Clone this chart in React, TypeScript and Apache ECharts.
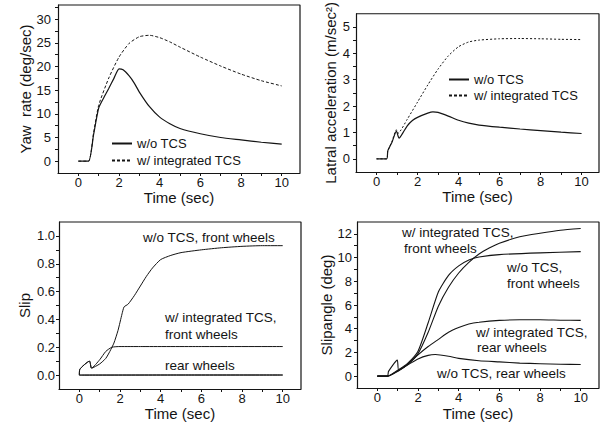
import React, { useEffect, useRef } from "react";
import * as echarts from "echarts";

// ---------- tick values ----------
const xMajorTicks = [0, 2, 4, 6, 8, 10];
const xAllTicks = [0, 1, 2, 3, 4, 5, 6, 7, 8, 9, 10];
const yawTicks = [0, 5, 10, 15, 20, 25, 30];
const yawAllTicks = [0, 2.5, 5, 7.5, 10, 12.5, 15, 17.5, 20, 22.5, 25, 27.5, 30, 32.5];
const latTicks = [0, 1, 2, 3, 4, 5];
const latAllTicks = [0, 0.5, 1, 1.5, 2, 2.5, 3, 3.5, 4, 4.5, 5];
const slipTicks = [0, 0.2, 0.4, 0.6, 0.8, 1.0];
const slipAllTicks = [0, 0.1, 0.2, 0.3, 0.4, 0.5, 0.6, 0.7, 0.8, 0.9, 1.0];
const angleTicks = [0, 2, 4, 6, 8, 10, 12];
const angleAllTicks = [0, 1, 2, 3, 4, 5, 6, 7, 8, 9, 10, 11, 12];

// ---------- legend names ----------
const legendNames = ["w/o TCS", "w/ integrated TCS"];

// ---------- Yaw rate (deg/sec) : [time, value] ----------
const yawWoTcs = [
  [0, 0], [0.5, 0], [0.75, 5.6], [1, 11.2], [1.25, 13.4], [1.5, 15.4], [1.75, 17.5],
  [2, 19.5], [2.2, 19.3], [2.5, 18.0], [2.75, 16.5], [3, 14.6], [3.5, 11.5], [4, 9.3],
  [4.5, 7.9], [5, 6.9], [6, 5.8], [7, 5.0], [8, 4.5], [9, 4.0], [10, 3.6],
];
const yawWithTcs = [
  [0, 0], [0.5, 0], [0.75, 6.0], [1, 11.8], [1.5, 17.6], [2, 22.0], [2.5, 24.9],
  [3, 26.3], [3.5, 26.6], [4, 26.1], [4.5, 25.2], [5, 24.1], [6, 22.0], [7, 20.1],
  [8, 18.4], [9, 17.0], [10, 15.9],
];

// ---------- Lateral acceleration (m/sec^2) ----------
const latWoTcs = [
  [0, 0], [0.5, 0], [0.55, 0.3], [0.75, 0.62], [0.97, 1.05], [1.1, 0.78], [1.3, 1.0],
  [1.5, 1.25], [1.75, 1.45], [2, 1.57], [2.5, 1.73], [2.75, 1.78], [3, 1.76],
  [3.5, 1.62], [4, 1.46], [4.5, 1.35], [5, 1.28], [6, 1.2], [7, 1.13], [8, 1.07],
  [9, 1.01], [10, 0.96],
];
const latWithTcs = [
  [0, 0], [0.5, 0], [0.55, 0.3], [0.75, 0.65], [0.97, 1.1], [1.05, 0.97], [1.5, 1.5],
  [2, 2.15], [2.5, 2.8], [3, 3.4], [3.5, 3.9], [4, 4.25], [4.5, 4.43], [5, 4.5],
  [6, 4.55], [7, 4.56], [8, 4.55], [9, 4.53], [10, 4.52],
];

// ---------- Slip ----------
const slipWoFront = [
  [0, 0], [0.02, 0.04], [0.5, 0.1], [0.6, 0.05], [1, 0.08], [1.3, 0.12], [1.5, 0.17],
  [1.7, 0.23], [1.9, 0.32], [2.1, 0.44], [2.2, 0.49], [2.4, 0.51], [2.7, 0.57],
  [3, 0.64], [3.3, 0.71], [3.6, 0.77], [4, 0.83], [4.5, 0.86], [5, 0.88], [6, 0.9],
  [7, 0.915], [8, 0.925], [9, 0.93], [10, 0.93],
];
const slipWithFront = [
  [0, 0], [0.02, 0.04], [0.5, 0.1], [0.6, 0.05], [1, 0.11], [1.3, 0.17], [1.6, 0.2],
  [2, 0.205], [3, 0.205], [6, 0.205], [10, 0.205],
];
const slipWoRear = [[0, 0], [5, 0], [10, 0]];
const slipWithRear = [[0, 0], [5, 0.001], [10, 0.001]];

// ---------- Slip angle (deg) ----------
const angleWithFront = [
  [0, 0], [0.5, 0], [1, 0.4], [1.5, 1.0], [2, 1.9], [2.5, 3.7], [3, 5.9], [3.5, 7.5],
  [4, 8.7], [4.5, 9.6], [5, 10.3], [5.5, 10.8], [6, 11.2], [7, 11.75], [8, 12.05],
  [9, 12.3], [10, 12.45],
];
const angleWoFront = [
  [0, 0], [0.5, 0], [1, 0.5], [1.5, 1.1], [2, 2.1], [2.5, 4.5], [3, 7.1], [3.5, 8.5],
  [4, 9.3], [4.5, 9.8], [5, 10.05], [6, 10.25], [8, 10.4], [10, 10.5],
];
const angleWithRear = [
  [0, 0], [0.5, 0], [1, 0.45], [1.5, 1.0], [2, 1.8], [2.5, 2.5], [3, 3.1], [3.5, 3.7],
  [4, 4.1], [4.5, 4.4], [5, 4.55], [6, 4.7], [7, 4.75], [8, 4.75], [9, 4.72], [10, 4.7],
];
const angleWoRear = [
  [0, 0], [0.5, 0], [0.55, 0.4], [0.98, 1.35], [1.05, 0.5], [1.5, 0.95], [2, 1.45],
  [2.5, 1.75], [2.85, 1.82], [3.5, 1.68], [4, 1.5], [5, 1.3], [6, 1.2], [7, 1.1],
  [8, 1.05], [9, 1.0], [10, 0.98],
];

// ---------- styling ----------
const FONT = "'Liberation Sans', Arial, Helvetica, sans-serif";
const INK = "#141414";

const panels = [
  { left: 58, top: 5, width: 242, height: 168, xMax: 10.9, yMin: -2.5, yMax: 33, yTicks: yawTicks, yAll: yawAllTicks, yName: "Yaw  rate (deg/sec)", nameGap: 25, labelMargin: 7, xGap: 13, fmt: (v: number) => String(v) },
  { left: 356, top: 5, width: 243, height: 167, xMax: 10.85, yMin: -0.5, yMax: 5.5, yTicks: latTicks, yAll: latAllTicks, yName: "Latral acceleration (m/sec²)", nameGap: 18, labelMargin: 6, xGap: 13, fmt: (v: number) => String(v) },
  { left: 59, top: 222, width: 242, height: 167, xMax: 10.9, yMin: -0.1, yMax: 1.1, yTicks: slipTicks, yAll: slipAllTicks, yName: "Slip", nameGap: 27, labelMargin: 4, xGap: 17, fmt: (v: number) => v.toFixed(1) },
  { left: 357, top: 222, width: 242, height: 166, xMax: 10.9, yMin: -1, yMax: 13, yTicks: angleTicks, yAll: angleAllTicks, yName: "Slipangle (deg)", nameGap: 21, labelMargin: 5, xGap: 18, fmt: (v: number) => String(v) },
];

const tickStyle = { color: INK, width: 1 };

function buildOption() {
  const grid: any[] = [];
  const xAxis: any[] = [];
  const yAxis: any[] = [];
  panels.forEach((p, i) => {
    grid.push({ left: p.left, top: p.top, width: p.width, height: p.height, containLabel: false });
    xAxis.push({
      type: "value", gridIndex: i, min: -1, max: p.xMax, position: "bottom",
      name: "Time (sec)", nameLocation: "middle", nameGap: p.xGap,
      nameTextStyle: { fontFamily: FONT, fontSize: 15, fontWeight: "normal", color: INK, verticalAlign: "top" },
      axisLine: { show: true, onZero: false, lineStyle: { color: INK, width: 1.2 } },
      axisTick: { show: true, length: 3, inside: false, customValues: xAllTicks, lineStyle: tickStyle },
      axisLabel: { show: true, customValues: xMajorTicks, margin: 3, fontFamily: FONT, fontSize: 13, color: INK, formatter: (v: number) => String(v) },
      splitLine: { show: false },
    });
    yAxis.push({
      type: "value", gridIndex: i, min: p.yMin, max: p.yMax, position: "left",
      name: p.yName, nameLocation: "middle", nameGap: p.nameGap, nameRotate: 90,
      nameTextStyle: { fontFamily: FONT, fontSize: 15, fontWeight: "normal", color: INK },
      axisLine: { show: true, onZero: false, lineStyle: { color: INK, width: 1.2 } },
      axisTick: { show: true, length: 3, inside: false, customValues: p.yAll, lineStyle: tickStyle },
      axisLabel: { show: true, customValues: p.yTicks, margin: p.labelMargin, fontFamily: FONT, fontSize: 13, color: INK, formatter: p.fmt },
      splitLine: { show: false },
    });
  });

  const line = (name: string, data: number[][], idx: number, type: any, width = 1.1) => ({
    type: "line", name, data, xAxisIndex: idx, yAxisIndex: idx,
    symbol: "none", showSymbol: false, smooth: 0.2, silent: true,
    lineStyle: { color: INK, width, type },
    itemStyle: { color: INK },
  });

  // top and right edges of each plot box, taken from the axis bounds
  const frames = panels.map((p, i) => ({
    type: "line", name: `frame${i}`, xAxisIndex: i, yAxisIndex: i,
    data: [[-1, p.yMax], [p.xMax, p.yMax], [p.xMax, p.yMin]],
    symbol: "none", showSymbol: false, smooth: false, silent: true, clip: false,
    lineStyle: { color: INK, width: 1.2, type: "solid" },
    z: 1,
  }));

  const series = [
    ...frames,
    line(legendNames[0], yawWoTcs, 0, "solid", 1.2),
    line(legendNames[1], yawWithTcs, 0, [3, 2], 1),
    line(legendNames[0], latWoTcs, 1, "solid", 1.2),
    line(legendNames[1], latWithTcs, 1, [2, 2], 1),
    line("w/o TCS, front wheels", slipWoFront, 2, "solid", 1),
    line("w/ integrated TCS, front wheels", slipWithFront, 2, "solid", 1),
    line("w/o TCS, rear wheels", slipWoRear, 2, "solid", 1),
    line("w/ integrated TCS, rear wheels", slipWithRear, 2, "solid", 1),
    line("w/ integrated TCS, front wheels", angleWithFront, 3, "solid", 1.1),
    line("w/o TCS, front wheels", angleWoFront, 3, "solid", 1.1),
    line("w/ integrated TCS, rear wheels", angleWithRear, 3, "solid", 1.1),
    line("w/o TCS, rear wheels", angleWoRear, 3, "solid", 1.1),
  ];

  const legendText = { fontFamily: FONT, fontSize: 13, fontWeight: "normal", color: INK };
  const legendBase = {
    data: legendNames, orient: "vertical", itemWidth: 20, itemHeight: 13,
    selectedMode: false, textStyle: legendText, padding: 0,
    itemStyle: { opacity: 0, color: "transparent", borderWidth: 0 },
  };
  const legend = [
    { ...legendBase, left: 111, top: 137, itemGap: 4 },
    { ...legendBase, left: 448, top: 73, itemGap: 3 },
  ];

  const note = (text: string, x: number, y: number) => ({
    type: "text", x, y, silent: true,
    style: { text, fill: INK, font: `13.5px ${FONT}`, textAlign: "left", textVerticalAlign: "middle" },
  });

  const graphic = [
    note("w/o TCS, front wheels", 143, 237),
    note("w/ integrated TCS,", 165, 317),
    note("front wheels", 165, 334),
    note("rear wheels", 165, 365),
    note("w/ integrated TCS,", 402, 232),
    note("front wheels", 404, 248),
    note("w/o TCS,", 507, 267),
    note("front wheels", 507, 283),
    note("w/ integrated TCS,", 476, 332),
    note("rear wheels", 477, 347),
    note("w/o TCS, rear wheels", 437, 373),
  ];

  return {
    animation: false,
    backgroundColor: "#ffffff",
    textStyle: { fontFamily: FONT },
    grid, xAxis, yAxis, series, legend, graphic,
  };
}

export default function App() {
  const ref = useRef<HTMLDivElement>(null);
  useEffect(() => {
    if (!ref.current) return;
    const chart = echarts.init(ref.current, undefined, { renderer: "svg" });
    chart.setOption(buildOption() as any);
    return () => chart.dispose();
  }, []);
  return (
    <div
      ref={ref}
      style={{ position: "fixed", left: 0, top: 0, width: 600, height: 434, background: "#fff" }}
    />
  );
}
